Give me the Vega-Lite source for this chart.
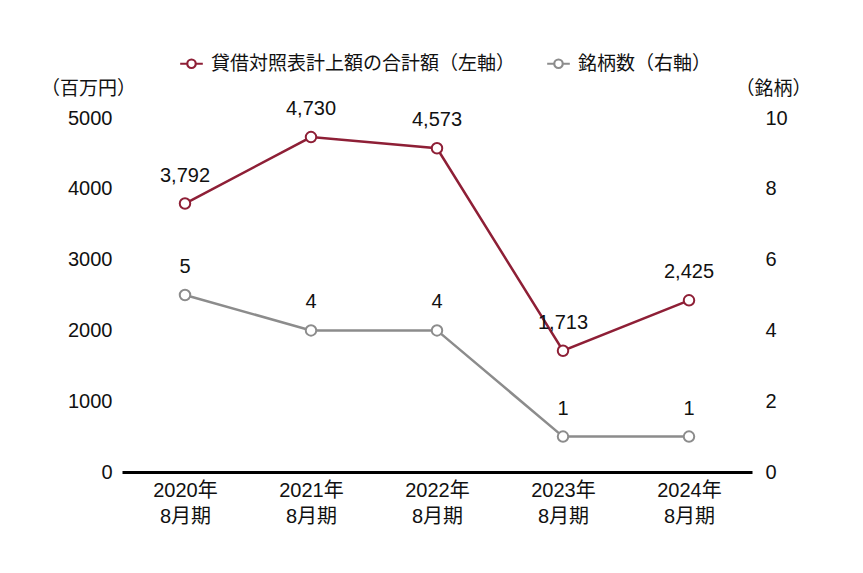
{
  "$schema": "https://vega.github.io/schema/vega-lite/v6.json",
  "width": 630,
  "height": 354,
  "autosize": {"type": "none"},
  "padding": {"left": 122, "top": 118, "right": 111, "bottom": 101},
  "background": "white",
  "config": {
    "view": {"stroke": null},
    "font": "Liberation Sans, Noto Sans CJK JP, sans-serif",
    "axis": {"labelFont": "Liberation Sans, Noto Sans CJK JP", "titleFont": "Liberation Sans, Noto Sans CJK JP", "labelColor": "#111", "titleColor": "#111"},
    "legend": {"labelFont": "Liberation Sans, Noto Sans CJK JP"}
  },
  "data": {
    "values": [
      {"period": "2020年|8月期", "amount": 3792, "amountLabel": "3,792", "count": 5, "s1": "貸借対照表計上額の合計額（左軸）", "s2": "銘柄数（右軸）"},
      {"period": "2021年|8月期", "amount": 4730, "amountLabel": "4,730", "count": 4, "s1": "貸借対照表計上額の合計額（左軸）", "s2": "銘柄数（右軸）"},
      {"period": "2022年|8月期", "amount": 4573, "amountLabel": "4,573", "count": 4, "s1": "貸借対照表計上額の合計額（左軸）", "s2": "銘柄数（右軸）"},
      {"period": "2023年|8月期", "amount": 1713, "amountLabel": "1,713", "count": 1, "s1": "貸借対照表計上額の合計額（左軸）", "s2": "銘柄数（右軸）"},
      {"period": "2024年|8月期", "amount": 2425, "amountLabel": "2,425", "count": 1, "s1": "貸借対照表計上額の合計額（左軸）", "s2": "銘柄数（右軸）"}
    ]
  },
  "encoding": {
    "x": {
      "field": "period", "type": "ordinal", "sort": null,
      "scale": {"type": "point", "padding": 0.5},
      "axis": {
        "title": null, "labelAngle": 0, "labelExpr": "split(datum.value, '|')",
        "labelFontSize": 20, "labelLineHeight": 26, "labelPadding": 8,
        "ticks": false, "domainColor": "#000", "domainWidth": 3, "grid": false
      }
    }
  },
  "layer": [
    {
      "layer": [
        {
          "mark": {"type": "line", "strokeWidth": 2.5},
          "encoding": {
            "y": {
              "field": "amount", "type": "quantitative",
              "scale": {"domain": [0, 5000], "nice": false},
              "axis": {
                "values": [0, 1000, 2000, 3000, 4000, 5000], "format": "d", "grid": false, "domain": false, "ticks": false,
                "labelFontSize": 20, "labelPadding": 10, "labelBaseline": "middle",
                "title": "（百万円）", "titleAngle": 0, "titleFontSize": 19, "titleFontWeight": "normal",
                "titleAlign": "center", "titleBaseline": "middle", "titleX": -34, "titleY": -30
              }
            },
            "stroke": {
              "field": "s1", "type": "nominal",
              "scale": {"domain": ["貸借対照表計上額の合計額（左軸）", "銘柄数（右軸）"], "range": ["#8e1f36", "#8c8c8c"]},
              "legend": {
                "orient": "none", "legendX": 60, "legendY": -64, "direction": "horizontal", "title": null,
                "symbolType": "M-1.6,0L-0.6,0M0.6,0L1.6,0M-0.6,0A0.6,0.6 0 1,1 0.6,0A0.6,0.6 0 1,1 -0.6,0Z",
                "symbolSize": 200, "symbolStrokeWidth": 2.2, "symbolFillColor": "white", "symbolOpacity": 1,
                "labelFontSize": 19, "labelColor": "#111", "columnPadding": 26, "labelOffset": 10, "labelLimit": 0,
                "labelFont": "Liberation Sans, Noto Sans CJK JP"
              }
            }
          }
        },
        {
          "mark": {"type": "point", "shape": "circle", "filled": true, "fill": "white", "opacity": 1, "size": 110, "strokeWidth": 2},
          "encoding": {
            "y": {"field": "amount", "type": "quantitative"},
            "stroke": {"field": "s1", "type": "nominal"}
          }
        },
        {
          "mark": {"type": "text", "dy": -28, "fontSize": 20, "color": "#111", "baseline": "middle"},
          "encoding": {
            "y": {"field": "amount", "type": "quantitative"},
            "text": {"field": "amountLabel"}
          }
        }
      ]
    },
    {
      "layer": [
        {
          "mark": {"type": "line", "strokeWidth": 2.5},
          "encoding": {
            "y": {
              "field": "count", "type": "quantitative",
              "scale": {"domain": [0, 10], "nice": false},
              "axis": {
                "orient": "right", "values": [0, 2, 4, 6, 8, 10], "grid": false, "domain": false, "ticks": false,
                "labelFontSize": 20, "labelPadding": 13, "labelBaseline": "middle",
                "title": "（銘柄）", "titleAngle": 0, "titleFontSize": 19, "titleFontWeight": "normal",
                "titleAlign": "center", "titleBaseline": "middle", "titleX": 21, "titleY": -30
              }
            },
            "stroke": {"field": "s2", "type": "nominal"}
          }
        },
        {
          "mark": {"type": "point", "shape": "circle", "filled": true, "fill": "white", "opacity": 1, "size": 110, "strokeWidth": 2},
          "encoding": {
            "y": {"field": "count", "type": "quantitative"},
            "stroke": {"field": "s2", "type": "nominal"}
          }
        },
        {
          "mark": {"type": "text", "dy": -28, "fontSize": 20, "color": "#111", "baseline": "middle"},
          "encoding": {
            "y": {"field": "count", "type": "quantitative"},
            "text": {"field": "count"}
          }
        }
      ]
    }
  ],
  "resolve": {"scale": {"y": "independent"}}
}
